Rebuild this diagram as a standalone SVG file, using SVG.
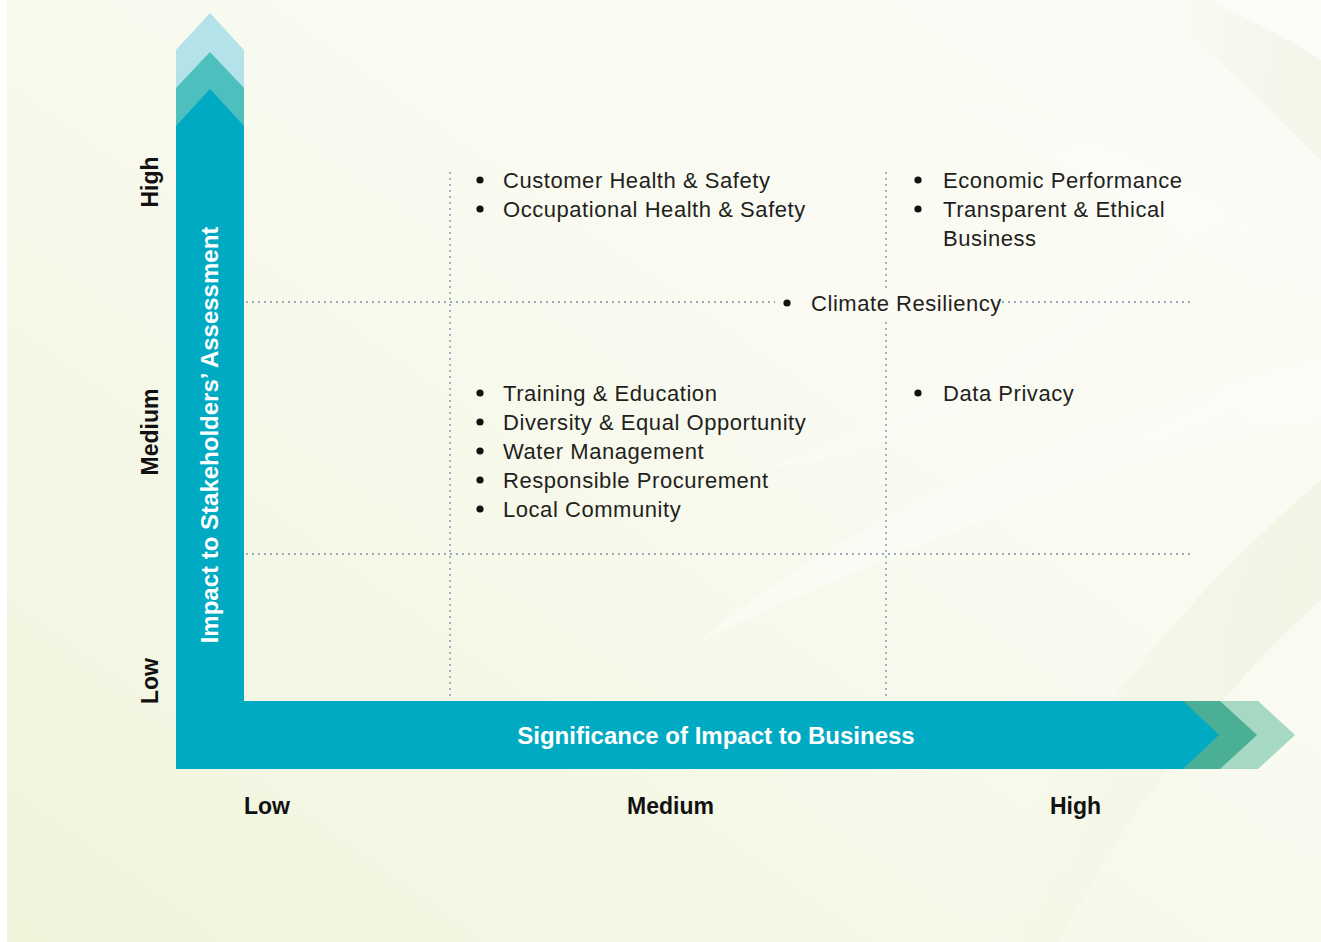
<svg xmlns="http://www.w3.org/2000/svg" width="1321" height="942" viewBox="0 0 1321 942">
  <defs>
    <linearGradient id="bg" x1="1" y1="0" x2="0" y2="1">
      <stop offset="0" stop-color="#FCFCF8"/>
      <stop offset="0.45" stop-color="#F9FAEF"/>
      <stop offset="1" stop-color="#F0F4DB"/>
    </linearGradient>
    <linearGradient id="leafA" x1="0" y1="0" x2="1" y2="1">
      <stop offset="0" stop-color="#FFFFFF" stop-opacity="0"/>
      <stop offset="0.5" stop-color="#FFFFFF" stop-opacity="0.55"/>
      <stop offset="1" stop-color="#FFFFFF" stop-opacity="0"/>
    </linearGradient>
    <linearGradient id="leafB" x1="0" y1="0" x2="1" y2="0">
      <stop offset="0" stop-color="#DCE8C4" stop-opacity="0"/>
      <stop offset="1" stop-color="#DCE8C4" stop-opacity="0.35"/>
    </linearGradient>
    <style>
      .item { font-family: "Liberation Sans", Arial, sans-serif; font-size: 22px; letter-spacing: 0.55px; fill: #231F20; }
      .axis { font-family: "Liberation Sans", Arial, sans-serif; font-size: 23px; font-weight: bold; fill: #111111; }
      .title { font-family: "Liberation Sans", Arial, sans-serif; font-size: 24px; font-weight: bold; fill: #FFFFFF; }
      .grid { stroke: #8EA2B4; stroke-width: 1.8; stroke-dasharray: 1.8 4.2; fill: none; }
      .dot { fill: #111111; }
    </style>
  </defs>

  <!-- background -->
  <rect x="0" y="0" width="1321" height="942" fill="#FFFFFF"/>
  <rect x="7" y="0" width="1314" height="942" fill="url(#bg)"/>
  <g id="foliage" opacity="0.8">
    <path d="M900 80 C1050 150 1200 240 1321 330 L1321 270 C1200 190 1060 110 900 80 Z" fill="url(#leafA)"/>
    <path d="M700 640 C850 520 1050 420 1321 360 L1321 420 C1080 470 880 560 700 640 Z" fill="url(#leafA)"/>
    <path d="M960 942 C1050 760 1180 600 1321 480 L1321 600 C1220 690 1120 820 1060 942 Z" fill="url(#leafB)"/>
    <path d="M1150 0 C1220 60 1280 120 1321 160 L1321 60 C1290 40 1250 20 1210 0 Z" fill="url(#leafB)"/>
    <path d="M760 470 C900 420 1080 330 1200 220 C1100 360 930 450 760 470 Z" fill="#FFFFFF" opacity="0.35"/>
  </g>

  <!-- grid -->
  <g id="grid">
    <line class="grid" x1="246" y1="302" x2="1192" y2="302"/>
    <line class="grid" x1="246" y1="554" x2="1192" y2="554"/>
    <line class="grid" x1="450" y1="172" x2="450" y2="700"/>
    <line class="grid" x1="886" y1="172" x2="886" y2="700"/>
  </g>

  <!-- vertical axis arrow -->
  <g id="axis-y">
    <polygon points="176,50 210,13 244,50 244,769 176,769" fill="#B3E3E8"/>
    <polygon points="176,88 210,52 244,88 244,769 176,769" fill="#4DBFBF"/>
    <polygon points="176,126 210,89 244,126 244,769 176,769" fill="#00AAC3"/>
    <text class="title" transform="translate(218,435) rotate(-90)" text-anchor="middle">Impact to Stakeholders’ Assessment</text>
  </g>

  <!-- horizontal axis arrow -->
  <g id="axis-x">
    <polygon points="1183,701 1258,701 1295,735 1258,769 1183,769" fill="#A6D9C3"/>
    <polygon points="1183,701 1220,701 1257,735 1220,769 1183,769" fill="#4BAF95"/>
    <polygon points="176,701 1183,701 1219,735 1183,769 176,769" fill="#00AAC3"/>
    <text class="title" x="716" y="744" text-anchor="middle">Significance of Impact to Business</text>
  </g>

  <!-- axis scale labels -->
  <g id="labels-y">
    <text class="axis" transform="translate(158,182) rotate(-90)" text-anchor="middle">High</text>
    <text class="axis" transform="translate(158,432) rotate(-90)" text-anchor="middle">Medium</text>
    <text class="axis" transform="translate(158,681) rotate(-90)" text-anchor="middle">Low</text>
  </g>
  <g id="labels-x">
    <text class="axis" x="244" y="814">Low</text>
    <text class="axis" x="627" y="814">Medium</text>
    <text class="axis" x="1050" y="814">High</text>
  </g>

  <!-- medium significance / high impact -->
  <g id="cell-mid-high">
    <circle class="dot" cx="480" cy="180" r="3.6"/>
    <text class="item" x="503" y="188">Customer Health &amp; Safety</text>
    <circle class="dot" cx="480" cy="209" r="3.6"/>
    <text class="item" x="503" y="217">Occupational Health &amp; Safety</text>
  </g>

  <!-- high significance / high impact -->
  <g id="cell-high-high">
    <circle class="dot" cx="918" cy="180" r="3.6"/>
    <text class="item" x="943" y="188">Economic Performance</text>
    <circle class="dot" cx="918" cy="209" r="3.6"/>
    <text class="item" x="943" y="217">Transparent &amp; Ethical</text>
    <text class="item" x="943" y="246">Business</text>
  </g>

  <!-- boundary item -->
  <g id="climate">
    <rect x="775" y="290" width="222" height="28" fill="#FBFBF4"/>
    <circle class="dot" cx="787" cy="303" r="3.6"/>
    <text class="item" x="811" y="311">Climate Resiliency</text>
  </g>

  <!-- medium significance / medium impact -->
  <g id="cell-mid-mid">
    <circle class="dot" cx="480" cy="393" r="3.6"/>
    <text class="item" x="503" y="401">Training &amp; Education</text>
    <circle class="dot" cx="480" cy="422" r="3.6"/>
    <text class="item" x="503" y="430">Diversity &amp; Equal Opportunity</text>
    <circle class="dot" cx="480" cy="451" r="3.6"/>
    <text class="item" x="503" y="459">Water Management</text>
    <circle class="dot" cx="480" cy="480" r="3.6"/>
    <text class="item" x="503" y="488">Responsible Procurement</text>
    <circle class="dot" cx="480" cy="509" r="3.6"/>
    <text class="item" x="503" y="517">Local Community</text>
  </g>

  <!-- high significance / medium impact -->
  <g id="cell-high-mid">
    <circle class="dot" cx="918" cy="393" r="3.6"/>
    <text class="item" x="943" y="401">Data Privacy</text>
  </g>
</svg>
